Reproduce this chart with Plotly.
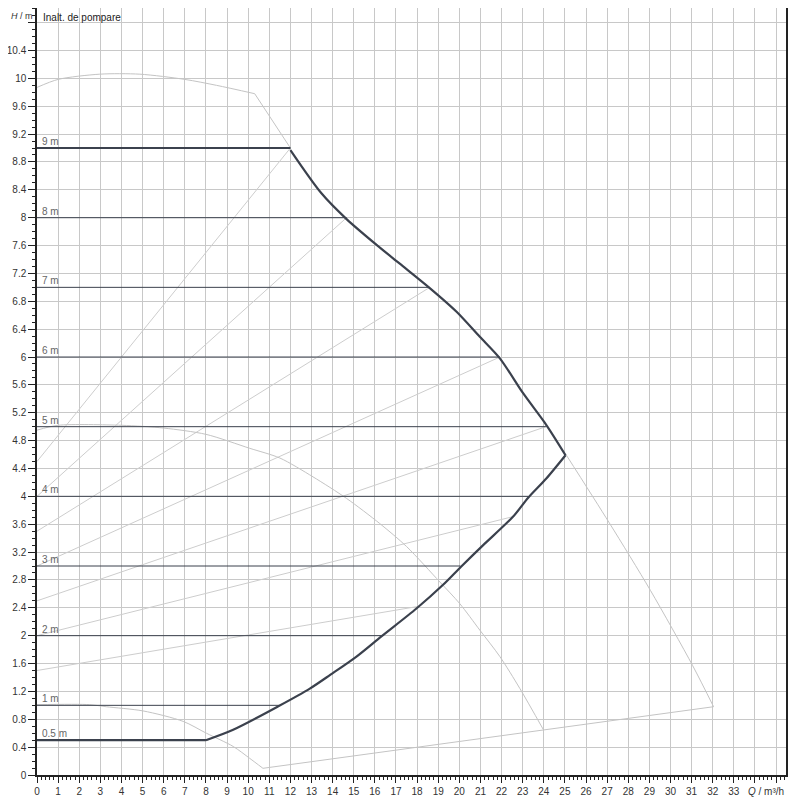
import plotly.graph_objects as go

# setpoint lines (constant pressure), H in m and Q where they meet the boundary
setpoints = [9, 8, 7, 6, 5, 4, 3, 2, 1, 0.5]
setpoint_q_end = [12.0, 14.66, 18.6, 21.92, 24.1, 23.26, 20.05, 16.31, 11.45, 8.0]

# variable pressure lines: start H at Q=0 and end point
dpv_h0 = [4.5, 4.0, 3.5, 3.0, 2.5, 2.0, 1.5]
dpv_q_end = [12.0, 14.66, 18.6, 21.92, 24.1, 22.55, 18.05]
dpv_h_end = [9.0, 8.0, 7.0, 6.0, 5.0, 3.71, 2.42]

# max speed curve (light part)
max_q = [0, 1.0, 2.97, 4.87, 7.0, 8.5, 10.31]
max_h = [9.87, 9.985, 10.06, 10.06, 9.985, 9.90, 9.78]
max_drop_q = [10.31, 12.0]
max_drop_h = [9.78, 9.0]
max_tail_q = [25.05, 27.1, 29.05, 31.05, 32.04]
max_tail_h = [4.6, 3.62, 2.65, 1.57, 0.98]

# min speed curve
min_q = [0, 2.5, 3.28, 5.02, 6.92, 8.02, 9.29, 10.07, 10.7]
min_h = [1.01, 1.01, 0.98, 0.92, 0.77, 0.60, 0.41, 0.24, 0.096]

# lower limit line
low_q = [10.7, 32.04]
low_h = [0.096, 0.98]

# intermediate curve
mid_q = [0, 1.0, 4.0, 6.0, 8.0, 10.07, 11.5, 13.07, 14.66, 16.23, 17.5, 19.08, 20.02,
         20.97, 21.92, 22.87, 23.97]
mid_h = [4.95, 5.02, 5.02, 4.98, 4.89, 4.69, 4.55, 4.28, 3.97, 3.61, 3.28, 2.77, 2.46,
         2.08, 1.70, 1.24, 0.656]

# operating range boundary (bold): lower branch, upper branch, flat ends
lower_q = [8.0, 9.29, 11.45, 12.92, 13.9, 15.13, 16.31, 17.97, 19.23, 20.08,
           21.13, 22.55, 23.26, 24.13, 25.03]
lower_h = [0.5, 0.65, 0.99, 1.24, 1.44, 1.70, 1.99, 2.39, 2.73, 2.99,
           3.30, 3.71, 3.98, 4.26, 4.59]
upper_q = [25.03, 24.13, 23.02, 21.92, 20.97, 19.87, 18.6, 17.18, 16.08, 14.66, 13.47, 12.0]
upper_h = [4.59, 5.02, 5.48, 5.98, 6.29, 6.65, 6.99, 7.34, 7.61, 7.98, 8.35, 8.97]

light = "#c4c4c4"
dark = "#3b414d"

fig = go.Figure()

def line(x, y, color, width, shape="linear"):
    fig.add_trace(go.Scatter(x=x, y=y, mode="lines", hoverinfo="skip",
                             line=dict(color=color, width=width, shape=shape, smoothing=0.8)))

for h0, qe, he in zip(dpv_h0, dpv_q_end, dpv_h_end):
    line([0, qe], [h0, he], "#cdcdcd", 1)

line(max_q, max_h, light, 1, "spline")
line(max_drop_q, max_drop_h, light, 1)
line(max_tail_q, max_tail_h, light, 1, "spline")
line(min_q, min_h, light, 1, "spline")
line(low_q, low_h, light, 1)
line(mid_q, mid_h, light, 1, "spline")

for h, qe in zip(setpoints, setpoint_q_end):
    line([0, qe], [h, h], dark, 1)

line([0, 8.0], [0.5, 0.5], dark, 2.2)
line([0, 12.0], [9.0, 9.0], dark, 2.2)
line(lower_q, lower_h, dark, 2.2, "spline")
line(upper_q, upper_h, dark, 2.2, "spline")

annotations = []
for h in setpoints:
    txt = f"{h:g} m"
    annotations.append(dict(x=0.15, y=h, xref="x", yref="y", text=txt, showarrow=False,
                            xanchor="left", yanchor="bottom", yshift=-1,
                            font=dict(size=10, color="#666")))
annotations.append(dict(x=0.006, y=0.997, xref="paper", yref="paper", text="Inalt. de pompare",
                        showarrow=False, xanchor="left", yanchor="top",
                        font=dict(size=10, color="#222")))
annotations.append(dict(x=0, y=1, xref="paper", yref="paper", text="<i>H</i> / m",
                        showarrow=False, xanchor="right", yanchor="top", xshift=-2, yshift=-1,
                        font=dict(size=9, color="#333")))
annotations.append(dict(x=1, y=0, xref="paper", yref="paper", text="<i>Q</i> / m³/h",
                        showarrow=False, xanchor="right", yanchor="top", yshift=-9,
                        font=dict(size=10, color="#333")))

xt = list(range(0, 36))
yt = [round(0.4 * i, 1) for i in range(28)]

# the page body adds 8 px around the figure
fig.update_layout(
    width=792, height=792,
    margin=dict(l=29, r=14, t=0, b=25, autoexpand=False),
    paper_bgcolor="white", plot_bgcolor="white",
    showlegend=False,
    font=dict(family="Liberation Sans, Arial, sans-serif", size=10, color="#333"),
    annotations=annotations,
    xaxis=dict(range=[0, 35.47], tickvals=xt,
               ticktext=[str(v) if v <= 33 else "" for v in xt],
               showgrid=True, gridcolor="#c8c8c8", gridwidth=1,
               ticks="outside", ticklen=6, tickcolor="#222",
               minor=dict(dtick=0.2, ticks="outside", ticklen=3, tickcolor="#222", showgrid=False),
               showline=True, linecolor="#222", linewidth=1.5, mirror=True,
               zeroline=False, automargin=False, tickfont=dict(size=10)),
    yaxis=dict(range=[0, 11.01], tickvals=yt,
               ticktext=[f"{v:g}" if v < 10.8 else "" for v in yt],
               showgrid=True, gridcolor="#c8c8c8", gridwidth=1,
               ticks="outside", ticklen=7, tickcolor="#222",
               minor=dict(dtick=0.1, ticks="outside", ticklen=3, tickcolor="#222", showgrid=False),
               showline=True, linecolor="#222", linewidth=1.5, mirror=True,
               zeroline=False, automargin=False, tickfont=dict(size=10)),
)

fig.write_html("out.html")
